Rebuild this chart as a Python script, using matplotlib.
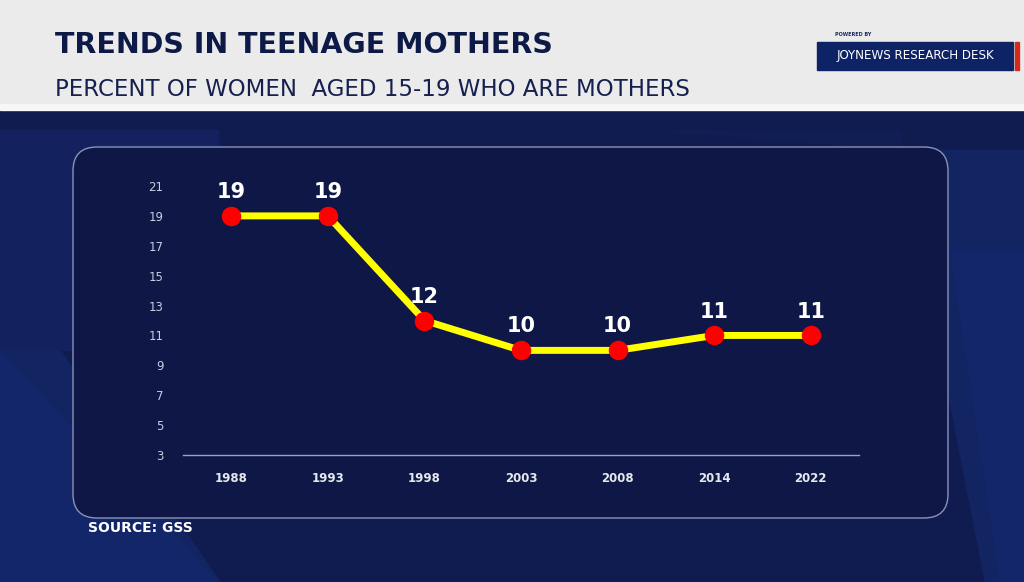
import matplotlib.pyplot as plt
from matplotlib.patches import FancyBboxPatch, Rectangle, Polygon

# data
years = ['1988', '1993', '1998', '2003', '2008', '2014', '2022']
pct = [19, 19, 12, 10, 10, 11, 11]
yticks = [3, 5, 7, 9, 11, 13, 15, 17, 19, 21]

W, H = 1024, 582
fig = plt.figure(figsize=(W / 100, H / 100), dpi=100)
fig.patch.set_facecolor('#101a4e')

bg = fig.add_axes([0, 0, 1, 1])
bg.set_xlim(0, W)
bg.set_ylim(H, 0)
bg.axis('off')

# background shapes (subtle)
bg.add_patch(Rectangle((0, 110), W, H - 110, color='#101b50', zorder=0))
bg.add_patch(Polygon([(0, 130), (218, 130), (218, 350), (0, 350)], color='#13225e', zorder=1))
bg.add_patch(Polygon([(0, 350), (0, H), (220, H)], color='#14266a', zorder=1))
bg.add_patch(Polygon([(0, 350), (60, 350), (220, H)], color='#132462', zorder=1))
bg.add_patch(Polygon([(900, 150), (W, 150), (W, H), (985, H)], color='#132462', zorder=1))
bg.add_patch(Polygon([(950, 250), (W, 250), (W, H), (1000, H)], color='#14266a', zorder=1))
bg.add_patch(Polygon([(660, 130), (900, 130), (900, 150)], color='#111d55', zorder=1))

# header
bg.add_patch(Rectangle((0, 0), W, 104, color='#ebebeb', zorder=2))
bg.add_patch(Rectangle((0, 104), W, 6, color='#f7f7f7', zorder=2))
bg.text(55, 45, 'TRENDS IN TEENAGE MOTHERS', fontsize=20.5, fontweight='heavy',
        color='#0d1a48', va='center', ha='left', zorder=3)
bg.text(55, 89, 'PERCENT OF WOMEN  AGED 15-19 WHO ARE MOTHERS', fontsize=16.5,
        color='#16204e', va='center', ha='left', zorder=3)

# logo
bg.add_patch(Rectangle((817, 42), 196, 28, color='#0e2366', zorder=3))
bg.add_patch(Rectangle((1015, 42), 4, 28, color='#d42a1e', zorder=3))
bg.text(915, 56, 'JOYNEWS RESEARCH DESK', fontsize=9.5, color='white',
        ha='center', va='center', fontstretch='condensed', zorder=4)
bg.text(835, 35, 'POWERED BY', fontsize=3.5, color='#1a2a60', fontweight='bold',
        ha='left', va='center', zorder=4)

# chart panel
bg.add_patch(FancyBboxPatch((73, 147), 875, 371, boxstyle='round,pad=0,rounding_size=24',
                            facecolor='#0e1745', edgecolor='#8a93b5', linewidth=1, zorder=2))

bg.text(88, 528, 'SOURCE: GSS', fontsize=10, fontweight='bold', color='white',
        ha='left', va='center', zorder=3)

# plot
ax = fig.add_axes([183 / W, 1 - 455 / H, (859 - 183) / W, (455 - 186) / H])
ax.set_facecolor('none')
x = list(range(len(years)))
ax.plot(x, pct, color='#ffff00', linewidth=5, zorder=3)
ax.plot(x, pct, 'o', color='#ff0000', markersize=13, zorder=4, clip_on=False)
for xi, v in zip(x, pct):
    ax.annotate(str(v), (xi, v), xytext=(0, 10), textcoords='offset points',
                ha='center', va='bottom', fontsize=15, fontweight='bold', color='white')
ax.set_xlim(-0.5, len(years) - 0.5)
ax.set_ylim(3, 21)
ax.set_xticks(x)
ax.set_xticklabels(years, fontsize=8.5, fontweight='bold', color='#e6e8f0')
ax.set_yticks(yticks)
ax.set_yticklabels([str(t) for t in yticks], fontsize=8.5, color='#c8cce0')
ax.tick_params(length=0)
ax.tick_params(axis='x', pad=12)
ax.tick_params(axis='y', pad=14)
for s in ['top', 'right', 'left']:
    ax.spines[s].set_visible(False)
ax.spines['bottom'].set_color('#9aa3c0')
ax.spines['bottom'].set_linewidth(1)

fig.savefig('out.png', dpi=100, facecolor=fig.get_facecolor())
